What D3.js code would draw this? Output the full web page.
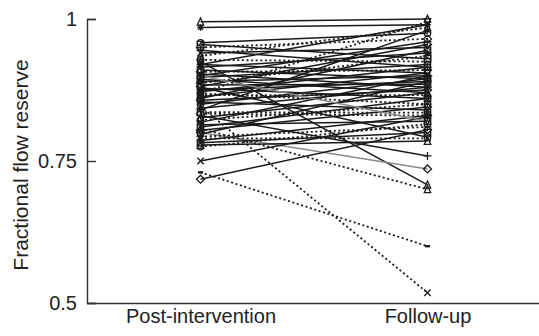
<!DOCTYPE html>
<html>
<head>
<meta charset="utf-8">
<script src="https://cdn.jsdelivr.net/npm/d3@7"></script>
<style>
  body { margin: 0; background: #fff; }
  svg { display: block; font-family: "Liberation Sans", Arial, sans-serif; }
</style>
</head>
<body>
<div id="chart"></div>
<script>
// categories on the x axis
const categories = ["Post-intervention", "Follow-up"];
const yTicks = [0.5, 0.75, 1];

// one entry per patient: FFR after intervention and at follow-up
const postValues = [
  0.995, 0.985, 0.958, 0.955, 0.950, 0.945, 0.940, 0.935, 0.928, 0.925,
  0.920, 0.915, 0.910, 0.907, 0.903, 0.900, 0.897, 0.894, 0.890, 0.887,
  0.884, 0.881, 0.878, 0.875, 0.872, 0.869, 0.866, 0.863, 0.860, 0.857,
  0.854, 0.850, 0.846, 0.843, 0.840, 0.836, 0.833, 0.830, 0.826, 0.822,
  0.818, 0.814, 0.810, 0.807, 0.804, 0.800, 0.797, 0.793, 0.790, 0.786,
  0.782, 0.778, 0.775, 0.750, 0.730, 0.718, 0.880, 0.900, 0.870, 0.920
];
const followValues = [
  1.000, 0.990, 0.975, 0.930, 0.965, 0.915, 0.950, 0.985, 0.925, 0.708,
  0.905, 0.940, 0.895, 0.910, 0.880, 0.960, 0.920, 0.870, 0.900, 0.935,
  0.885, 0.955, 0.860, 0.890, 0.915, 0.850, 0.866, 0.905, 0.945, 0.875,
  0.840, 0.895, 0.518, 0.880, 0.980, 0.835, 0.830, 0.759, 0.870, 0.850,
  0.900, 0.820, 0.860, 0.700, 0.845, 0.736, 0.890, 0.810, 0.790, 0.830,
  0.800, 0.785, 0.815, 0.828, 0.600, 0.805, 0.792, 0.820, 0.995, 0.990
];
// line style of each patient: solid, dotted or grey
const lineStyles = [
  "solid", "solid", "solid", "solid", "dotted", "solid", "solid", "dotted", "dotted", "solid",
  "solid", "solid", "solid", "dotted", "solid", "solid", "solid", "solid", "solid", "dotted",
  "solid", "solid", "solid", "solid", "solid", "dotted", "dotted", "solid", "solid", "solid",
  "solid", "solid", "dotted", "solid", "solid", "dotted", "dotted", "solid", "solid", "dotted",
  "solid", "solid", "solid", "dotted", "solid", "grey", "solid", "dotted", "dotted", "solid",
  "solid", "solid", "dotted", "solid", "dotted", "solid", "solid", "grey", "dotted", "solid"
];
const markers = [
  "^", "*", "o", "s", "d", "+", "x", "^", "o", "^",
  "v", "*", "s", "d", "x", "+", "o", "^", ">", "<",
  "s", "d", "x", "*", "o", "+", "^", "v", "s", "d",
  "x", "o", "x", "+", "*", "s", "d", "+", "^", "o",
  "x", "v", "s", "^", "d", "d", "o", "+", "x", "*",
  "s", "^", "o", "x", "-", "d", "o", "s", "v", "*"
];

const width = 539, height = 336;
const svg = d3.select("#chart").append("svg")
  .attr("width", width)
  .attr("height", height);

const x = d3.scaleLinear().domain([0.5, 2.5]).range([87, 541]);
const y = d3.scaleLinear().domain([0.5, 1]).range([303, 19]);

const patients = postValues.map((p, i) => ({
  post: p, follow: followValues[i], style: lineStyles[i], marker: markers[i]
}));

// lines
const line = d3.line().x(d => x(d[0])).y(d => y(d[1]));
svg.append("g").selectAll("path")
  .data(patients)
  .join("path")
  .attr("d", d => line([[1, d.post], [2, d.follow]]))
  .attr("fill", "none")
  .attr("stroke", d => d.style === "grey" ? "#8a8a8a" : "#1a1a1a")
  .attr("stroke-width", d => d.style === "dotted" ? 1.8 : 1.5)
  .attr("stroke-dasharray", d => d.style === "dotted" ? "2,2.6" : null);

// markers
const mg = svg.append("g")
  .attr("fill", "none")
  .attr("stroke", "#1a1a1a")
  .attr("stroke-width", 1.3);

function drawMarker(type, cx, cy) {
  const r = 3.2;
  const g = mg.append("g").attr("transform", `translate(${cx},${cy})`);
  if (type === "o") {
    g.append("circle").attr("r", r);
  } else if (type === "s") {
    g.append("rect").attr("x", -r).attr("y", -r).attr("width", 2 * r).attr("height", 2 * r);
  } else if (type === "d") {
    g.append("path").attr("d", `M0,${-r - 0.8}L${r + 0.8},0L0,${r + 0.8}L${-r - 0.8},0Z`);
  } else if (type === "^") {
    g.append("path").attr("d", `M0,${-r - 0.6}L${r},${r}L${-r},${r}Z`);
  } else if (type === "v") {
    g.append("path").attr("d", `M0,${r + 0.6}L${r},${-r}L${-r},${-r}Z`);
  } else if (type === ">") {
    g.append("path").attr("d", `M${r + 0.6},0L${-r},${r}L${-r},${-r}Z`);
  } else if (type === "<") {
    g.append("path").attr("d", `M${-r - 0.6},0L${r},${r}L${r},${-r}Z`);
  } else if (type === "x") {
    g.append("path").attr("d", `M${-r},${-r}L${r},${r}M${-r},${r}L${r},${-r}`);
  } else if (type === "+") {
    g.append("path").attr("d", `M${-r - 0.8},0L${r + 0.8},0M0,${-r - 0.8}L0,${r + 0.8}`);
  } else if (type === "*") {
    g.append("path").attr("d", `M${-r},0L${r},0M0,${-r}L0,${r}M${-r * 0.7},${-r * 0.7}L${r * 0.7},${r * 0.7}M${-r * 0.7},${r * 0.7}L${r * 0.7},${-r * 0.7}`);
  } else if (type === "-") {
    g.append("path").attr("d", `M${-2.5},0L${2.5},0`).attr("stroke-width", 2.4);
  }
}
patients.forEach(d => {
  drawMarker(d.marker, x(1), y(d.post));
  drawMarker(d.marker, x(2), y(d.follow));
});

// y axis
const yAxis = svg.append("g")
  .attr("transform", `translate(${x(0.5)},0)`)
  .call(d3.axisLeft(y).tickValues(yTicks).tickSize(-9).tickPadding(10).tickFormat(d3.format("")));
yAxis.select(".domain").attr("stroke", "#333").attr("stroke-width", 1.4);
yAxis.selectAll(".tick line").attr("stroke", "#333").attr("stroke-width", 1.4);
yAxis.selectAll("text").attr("font-size", 20).attr("fill", "#222")
  .attr("font-family", "Liberation Sans, Arial, sans-serif");

// x axis
const xAxis = svg.append("g")
  .attr("transform", `translate(0,${y(0.5)})`)
  .call(d3.axisBottom(x).tickValues([1, 2]).tickSize(0).tickPadding(6)
    .tickFormat(d => categories[d - 1]));
xAxis.select(".domain").attr("stroke", "#333").attr("stroke-width", 1.4);
xAxis.selectAll("text").attr("font-size", 20).attr("fill", "#222")
  .attr("font-family", "Liberation Sans, Arial, sans-serif");

// y title
svg.append("text")
  .attr("transform", `translate(28,${(y(0.5) + y(1)) / 2 + 4}) rotate(-90)`)
  .attr("text-anchor", "middle")
  .attr("font-size", 21)
  .attr("fill", "#222")
  .text("Fractional flow reserve");
</script>
</body>
</html>
